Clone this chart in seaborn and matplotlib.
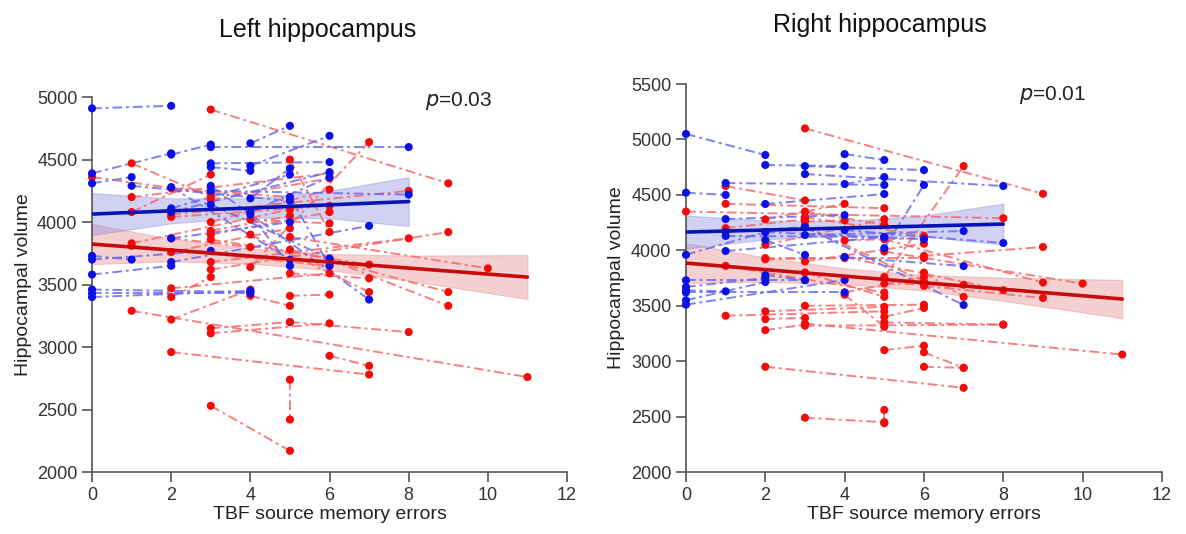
# %%
import pandas as pd
import matplotlib.pyplot as plt
import seaborn as sns

# %%
# paired observations (errors_1, volume_1, errors_2, volume_2), read off the figure
left_blue = [
    (0, 4910, 2, 4930), (0, 4390, 2, 4550), (0, 4310, 1, 4360), (0, 3730, 1, 3700),
    (0, 3700, 3, 3770), (0, 3580, 2, 3650), (0, 3460, 4, 3440), (0, 3430, 4, 3430),
    (0, 3400, 4, 3450), (1, 4290, 5, 4170), (2, 4540, 3, 4620), (2, 4110, 5, 4380),
    (2, 4080, 6, 4400), (2, 3870, 5, 4000), (2, 3680, 7, 3970), (3, 4600, 8, 4600),
    (3, 4470, 6, 4480), (3, 4440, 4, 4410), (3, 4290, 7, 3380), (3, 4250, 8, 4220),
    (3, 4140, 6, 3710), (4, 4630, 5, 4770), (4, 4450, 6, 4690), (4, 4190, 5, 4430),
    (4, 4080, 6, 4360), (4, 4060, 5, 3650), (5, 4200, 6, 3650), (2, 4280, 5, 3700),
]
left_red = [
    (3, 4900, 9, 4310), (0, 4360, 3, 4230), (1, 4470, 3, 4200), (1, 4200, 6, 4390),
    (1, 4080, 3, 4380), (1, 3830, 5, 4100), (1, 3810, 6, 3650), (2, 4270, 5, 4200),
    (2, 4060, 8, 4250), (2, 4040, 6, 4130), (2, 3870, 4, 3800), (2, 3760, 5, 3950),
    (2, 3470, 6, 3590), (2, 3400, 3, 3560), (2, 3220, 4, 3460), (2, 2960, 7, 2780),
    (3, 4180, 6, 4350), (3, 4000, 6, 4260), (3, 3930, 5, 4050), (3, 3900, 6, 4080),
    (3, 3860, 7, 3660), (3, 3680, 8, 3870), (3, 3620, 9, 3920), (3, 3150, 5, 3200),
    (3, 3110, 6, 3190), (3, 2530, 5, 2170), (4, 4020, 6, 3990), (4, 3900, 7, 3440),
    (4, 3640, 7, 4640), (4, 3410, 5, 3330), (1, 3290, 11, 2760), (5, 3200, 8, 3120),
    (5, 4500, 6, 3920), (5, 3880, 10, 3630), (5, 3780, 9, 3440), (5, 3590, 7, 3550),
    (5, 3410, 6, 3420), (5, 2740, 5, 2420), (6, 3700, 9, 3330), (6, 2930, 7, 2850),
]
right_blue = [
    (0, 5050, 2, 4860), (0, 4520, 1, 4500), (0, 3960, 2, 4165), (0, 3730, 3, 3730),
    (0, 3670, 2, 3750), (0, 3640, 1, 3630), (0, 3620, 4, 3620), (0, 3550, 2, 3714),
    (0, 3510, 4, 3732), (1, 4607, 5, 4590), (1, 4282, 4, 4318), (1, 4165, 3, 4210),
    (1, 4130, 5, 4120), (2, 4770, 4, 4760), (2, 4418, 5, 4508), (2, 4093, 3, 3958),
    (2, 3777, 3, 3732), (3, 4760, 6, 4724), (3, 4688, 8, 4580), (3, 4210, 7, 3507),
    (3, 4138, 7, 4174), (4, 4868, 5, 4815), (4, 4598, 5, 4661), (4, 4183, 8, 4066),
    (4, 3940, 7, 3858), (5, 4020, 6, 4590), (1, 3994, 5, 4120), (2, 4165, 6, 4100),
]
right_red = [
    (3, 5100, 9, 4510), (0, 4350, 8, 4290), (1, 4580, 3, 4450), (1, 4420, 5, 4380),
    (1, 4200, 3, 4280), (1, 3860, 5, 3620), (2, 4280, 4, 4420), (2, 4050, 5, 4280),
    (2, 3930, 6, 3930), (2, 3920, 4, 3930), (5, 3760, 7, 4760), (3, 4350, 5, 4230),
    (3, 4300, 6, 4130), (3, 4260, 4, 4270), (3, 4220, 6, 3720), (3, 3900, 6, 4060),
    (3, 3800, 5, 3580), (4, 4090, 6, 4110), (4, 3940, 8, 3640), (4, 3620, 6, 3760),
    (5, 4100, 9, 3710), (5, 3990, 10, 3700), (6, 3950, 9, 4030), (5, 3700, 7, 3690),
    (6, 3680, 9, 3570), (6, 3800, 7, 3580), (1, 3410, 5, 3450), (2, 3450, 5, 3490),
    (2, 3380, 3, 3390), (2, 3280, 3, 3330), (3, 3500, 6, 3510), (3, 3320, 8, 3330),
    (5, 3400, 6, 3480), (2, 2950, 7, 2760), (3, 2490, 5, 2450), (5, 2560, 5, 2440),
    (6, 2950, 7, 2940), (5, 3100, 6, 3140), (3, 3340, 11, 3060), (5, 3350, 8, 3330),
    (6, 3080, 7, 2940), (4, 3600, 5, 3310),
]

# fitted lines and 95% bands
left_blue_fit_x = [0, 2, 4, 6, 8]
left_blue_fit = [4064, 4090, 4112, 4138, 4164]
left_blue_lo = [3896, 3990, 4035, 4030, 3968]
left_blue_hi = [4232, 4190, 4190, 4250, 4360]
left_red_fit_x = [0, 2, 4, 6, 8, 11]
left_red_fit = [3824, 3776, 3728, 3680, 3632, 3560]
left_red_lo = [3664, 3686, 3668, 3615, 3532, 3384]
left_red_hi = [3984, 3866, 3788, 3745, 3732, 3736]

right_blue_fit_x = [0, 2, 4, 6, 8]
right_blue_fit = [4165, 4183, 4201, 4219, 4237]
right_blue_lo = [4015, 4098, 4136, 4124, 4052]
right_blue_hi = [4315, 4268, 4266, 4314, 4422]
right_red_fit_x = [0, 2, 4, 6, 8, 11]
right_red_fit = [3885, 3826, 3767, 3708, 3649, 3561]
right_red_lo = [3705, 3716, 3697, 3638, 3544, 3389]
right_red_hi = [4065, 3936, 3837, 3778, 3754, 3733]

xticks = [0, 2, 4, 6, 8, 10, 12]
left_yticks = [2000, 2500, 3000, 3500, 4000, 4500, 5000]
right_yticks = [2000, 2500, 3000, 3500, 4000, 4500, 5000, 5500]


# %%
def to_long(pairs, group):
    rows = []
    for i, (x1, y1, x2, y2) in enumerate(pairs):
        rows.append({'subject': f'{group}{i}', 'errors': x1, 'volume': y1, 'group': group})
        rows.append({'subject': f'{group}{i}', 'errors': x2, 'volume': y2, 'group': group})
    return pd.DataFrame(rows)


sns.set_style('white')
plt.rcParams['font.family'] = ['Liberation Sans', 'DejaVu Sans']

pal_pts = {'red': '#f50a0a', 'blue': '#0a10e6'}
pal_lines = {'red': '#f56a6a', 'blue': '#6a6af0'}

fig = plt.figure(figsize=(11.86, 5.34), dpi=100)
ax1 = fig.add_axes([0.0776, 0.116, 0.4005, 0.7022])
ax2 = fig.add_axes([0.5784, 0.116, 0.4013, 0.7266])

panels = [
    (ax1, left_blue, left_red, 'Left hippocampus', '=0.03', left_yticks,
     (left_blue_fit_x, left_blue_fit, left_blue_lo, left_blue_hi),
     (left_red_fit_x, left_red_fit, left_red_lo, left_red_hi),
     (0.268, 0.944), (0.70, 0.99)),
    (ax2, right_blue, right_red, 'Right hippocampus', '=0.01', right_yticks,
     (right_blue_fit_x, right_blue_fit, right_blue_lo, right_blue_hi),
     (right_red_fit_x, right_red_fit, right_red_lo, right_red_hi),
     (0.742, 0.953), (0.70, 0.972)),
]

for ax, blue, red, title, ptxt, yticks, bfit, rfit, tpos, ppos in panels:
    df = pd.concat([to_long(red, 'red'), to_long(blue, 'blue')], ignore_index=True)

    n0 = len(ax.lines)
    sns.lineplot(data=df, x='errors', y='volume', hue='group', units='subject',
                 estimator=None, sort=False, palette=pal_lines, legend=False,
                 lw=1.4, alpha=0.85, ax=ax)
    for ln in ax.lines[n0:]:
        ln.set_dashes([5, 2, 1.5, 2])

    # bands + fit lines
    for (fx, fy, lo, hi), band in [(rfit, '#e88a8a'), (bfit, '#8c8ce0')]:
        ax.fill_between(fx, lo, hi, color=band, alpha=0.4, lw=0.8, edgecolor=band)
    sns.scatterplot(data=df, x='errors', y='volume', hue='group', palette=pal_pts,
                    s=34, linewidth=0, legend=False, ax=ax, zorder=3)
    for (fx, fy, lo, hi), col in [(rfit, '#c80a0a'), (bfit, '#0a14b4')]:
        sns.lineplot(x=fx, y=fy, color=col, lw=2.6, ax=ax, zorder=4)

    ax.set_xlim(0, 12)
    ax.set_ylim(yticks[0], yticks[-1])
    ax.set_xticks(xticks)
    ax.set_yticks(yticks)
    ax.set_xlabel('TBF source memory errors', fontsize=14, color='#222222', labelpad=2)
    ax.set_ylabel('Hippocampal volume', fontsize=14, color='#222222', labelpad=4)
    ax.tick_params(axis='both', which='major', direction='out', length=7, width=1.2,
                   color='#555555', labelsize=13, labelcolor='#333333', bottom=True, left=True)
    for side in ['top', 'right']:
        ax.spines[side].set_visible(False)
    for side in ['left', 'bottom']:
        ax.spines[side].set_color('#555555')
        ax.spines[side].set_linewidth(1.2)
    for c in ax.collections:
        c.set_clip_on(False)
    fig.text(tpos[0], tpos[1], title, ha='center', va='center', fontsize=18, color='#111111')
    ax.text(ppos[0], ppos[1], r'$p$' + ptxt, transform=ax.transAxes, ha='left', va='center',
            fontsize=15, color='#222222')

plt.savefig('out.png', dpi=100)
